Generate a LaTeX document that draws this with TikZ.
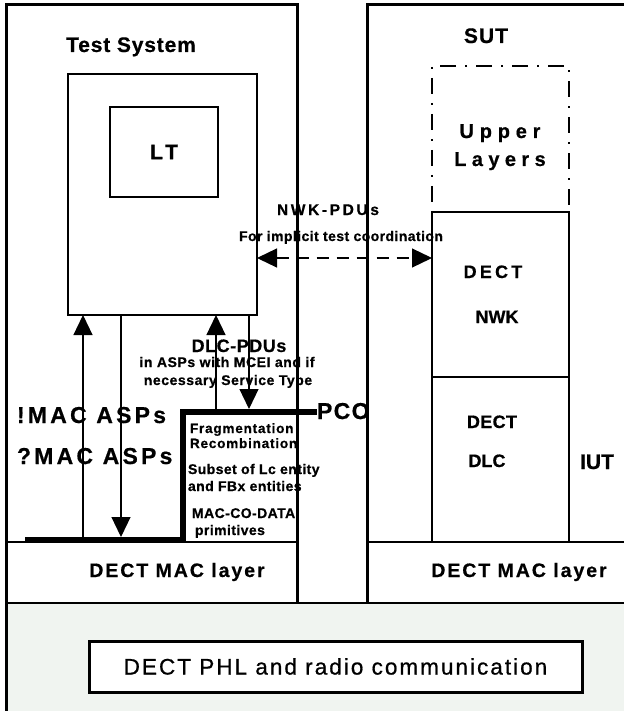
\documentclass[tikz,border=0pt]{standalone}
\usepackage{fontspec}
\setmainfont{Liberation Sans}[BoldFeatures={FakeBold=0.6}]
\usetikzlibrary{arrows.meta}
\definecolor{bgfill}{RGB}{240,244,240}
\newcommand{\dfont}[3]{\fontsize{#1}{#2}\selectfont\bfseries\addfontfeature{LetterSpace=#3}}
\newcommand{\rfont}[3]{\fontsize{#1}{#2}\selectfont\addfontfeature{LetterSpace=#3,FakeBold=0.8}}
\begin{document}
\begin{tikzpicture}[x=1pt,y=-1pt,
  frame/.style={line width=3pt},
  rowline/.style={line width=2.5pt},
  blk/.style={draw, line width=2.5pt, inner sep=0pt, outer sep=0pt},
  lbl/.style={inner sep=0pt, outer sep=0pt},
  tipa/.tip={Triangle[length=20pt,width=19pt]},
  arr/.style={line width=1.2pt, -tipa},
  pcoline/.style={line width=6pt, line join=miter},
  dashbox/.style={draw, line width=1.2pt, dash pattern=on 16pt off 9pt on 2pt off 9pt, inner sep=0pt, outer sep=0pt}]
\useasboundingbox (0,0) rectangle (623,711);
% background of radio part
\fill[bgfill] (6,603) rectangle (626,714);
% frames
\draw[frame] (6,714) -- (6,5) -- (297,5) -- (297,603);
\draw[frame] (367,603) -- (367,5) -- (626,5);
\draw[rowline] (6,542) -- (297,542);
\draw[rowline] (367,542) -- (626,542);
\draw[rowline] (6,603) -- (626,603);
% boxes
\node[blk, minimum width=189pt, minimum height=241pt] (tester) at (162.5,194.5) {};
\node[blk, minimum width=108pt, minimum height=90pt, font=\dfont{21}{21}{18}] (lt) at (164,152) {LT};
\node[dashbox, minimum width=137pt, minimum height=146pt] (upper) at (500.5,139) {};
\node[blk, minimum width=137pt, minimum height=165pt] (nwk) at (500.5,294.5) {};
\node[blk, minimum width=137pt, minimum height=165pt] (dlc) at (500.5,459.5) {};
\node[blk, line width=3pt, fill=white, minimum width=493pt, minimum height=51pt, font=\rfont{22.5}{22.5}{9}] (phl) at (335.5,666.5) {DECT PHL and radio communication};
% labels
\node[lbl, anchor=base, font=\dfont{21}{21}{4}] (ts) at (131,52) {Test System};
\node[lbl, anchor=base, font=\dfont{21}{21}{5}] (sut) at (486,43) {SUT};
\node[lbl, anchor=base, font=\dfont{20}{20}{29}] (upt) at (500,138) {Upper};
\node[lbl, anchor=base, font=\dfont{20}{20}{27}] (lyt) at (500,166) {Layers};
\node[lbl, anchor=base, font=\dfont{15.5}{15.5}{17}] (nwkpdu) at (328,215) {NWK-PDUs};
\node[lbl, anchor=base, font=\dfont{14}{14}{3}] (forimp) at (341,241) {For implicit test coordination};
\node[lbl, anchor=base, font=\dfont{18}{18}{3}] (dlcpdu) at (239,352) {DLC-PDUs};
\node[lbl, anchor=base, font=\dfont{14}{14}{4}] (inasps) at (227,367) {in ASPs with MCEI and if};
\node[lbl, anchor=base, font=\dfont{14}{14}{4}] (necess) at (228,385) {necessary Service Type};
\node[lbl, anchor=base west, font=\dfont{23}{23}{14}] (imac) at (17,423) {!MAC ASPs};
\node[lbl, anchor=base west, font=\dfont{23}{23}{14}] (qmac) at (17,464) {?MAC ASPs};
\node[lbl, anchor=base west, font=\dfont{23}{23}{6}] (pco) at (317,419) {PCO};
\node[lbl, anchor=base west, font=\dfont{13.5}{13.5}{6}] (frag) at (190,433) {Fragmentation};
\node[lbl, anchor=base west, font=\dfont{13.5}{13.5}{6}] (recomb) at (190,448) {Recombination};
\node[lbl, anchor=base west, font=\dfont{14}{14}{3}] (subset) at (188,474) {Subset of Lc entity};
\node[lbl, anchor=base west, font=\dfont{14}{14}{3}] (fbx) at (188,491) {and FBx entities};
\node[lbl, anchor=base west, font=\dfont{14}{14}{3}] (macco) at (192,518) {MAC-CO-DATA};
\node[lbl, anchor=base west, font=\dfont{14}{14}{3}] (prim) at (195,535) {primitives};
\node[lbl, anchor=base, font=\dfont{18}{18}{18}] (dect1) at (493,278) {DECT};
\node[lbl, anchor=base, font=\dfont{18}{18}{0}] (nwkt) at (497,323) {NWK};
\node[lbl, anchor=base, font=\dfont{18}{18}{2}] (dect2) at (492,428) {DECT};
\node[lbl, anchor=base, font=\dfont{18}{18}{0}] (dlct) at (487,467) {DLC};
\node[lbl, anchor=base, font=\dfont{21}{21}{0}] (iut) at (597,469) {IUT};
\node[lbl, anchor=base, font=\dfont{19.5}{19.5}{10}] (mac1) at (177,577) {DECT MAC layer};
\node[lbl, anchor=base, font=\dfont{19.5}{19.5}{10}] (mac2) at (519,577) {DECT MAC layer};
% PCO thick line
\coordinate (tl0) at (25,540);
\coordinate (tl1) at (183,540);
\coordinate (tl2) at (183,412);
\draw[pcoline] (tl0) -- (tl1) -- (tl2) -- (pco.west |- tl2);
% vertical ASP arrows
\coordinate (a1) at (83,537);
\coordinate (a2) at (121,537);
\coordinate (a3) at (216,409);
\coordinate (a4) at (249,409);
\draw[arr] (a1) -- (a1 |- tester.south);
\draw[arr] (a2 |- tester.south) -- (a2);
\draw[arr] (a3) -- (a3 |- tester.south);
\draw[arr] (a4 |- tester.south) -- (a4);
% NWK-PDU dashed arrow
\coordinate (dl) at (tester.east |- 0,258);
\coordinate (dr) at (nwk.west |- 0,258);
\draw[line width=1.2pt, dash pattern=on 12pt off 8pt, tipa-tipa] (dl) -- (dr);
\end{tikzpicture}
\end{document}
